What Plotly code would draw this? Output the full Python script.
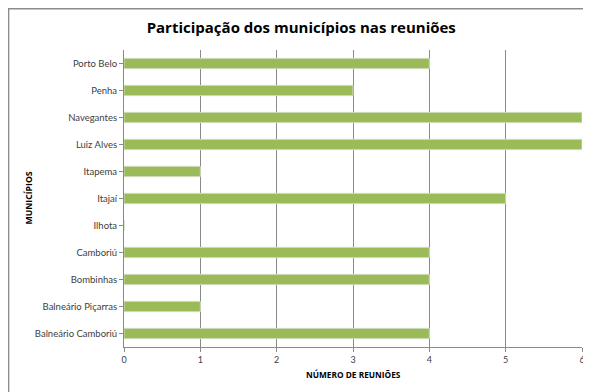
import plotly.graph_objects as go

municipios = ["Balneário Camboriú", "Balneário Piçarras", "Bombinhas", "Camboriú", "Ilhota",
              "Itajaí", "Itapema", "Luiz Alves", "Navegantes", "Penha", "Porto Belo"]
reunioes = [4, 1, 4, 4, 0, 5, 1, 6, 6, 3, 4]
x_ticks = [0, 1, 2, 3, 4, 5, 6]

fig = go.Figure()

# barras horizontais no verde do Excel
fig.add_trace(go.Bar(
    y=municipios,
    x=reunioes,
    orientation="h",
    width=0.38,
    marker=dict(color="#9bbb59", line=dict(color="#d0dcc0", width=1)),
    cliponaxis=False,
))

# a página tem 8px de margem no body, por isso a figura é um pouco menor
fig.update_layout(
    width=583,
    height=384,
    paper_bgcolor="white",
    plot_bgcolor="white",
    showlegend=False,
    margin=dict(l=116, r=9, t=42, b=45),
    font=dict(family="Lato, Open Sans, sans-serif", color="#404040", size=9),
    title=dict(
        text="<b>Participação dos municípios nas reuniões</b>",
        x=0.503, xanchor="center", y=0.948, yanchor="middle",
        font=dict(size=15, color="#000000", family="Open Sans, sans-serif"),
    ),
    xaxis=dict(
        range=[0, 6],
        tickvals=x_ticks,
        automargin=False,
        showgrid=True,
        gridcolor="#8a8a8a",
        gridwidth=1,
        showline=True,
        linecolor="#8a8a8a",
        ticks="outside",
        ticklen=4,
        tickcolor="#8a8a8a",
        zeroline=False,
        tickfont=dict(size=9, color="#404040"),
    ),
    yaxis=dict(
        automargin=False,
        showline=True,
        linecolor="#8a8a8a",
        ticks="outside",
        ticklen=4,
        tickcolor="#8a8a8a",
        showgrid=False,
        tickfont=dict(size=9.5, color="#404040"),
    ),
)

# títulos dos eixos
fig.add_annotation(text="<b>NÚMERO DE REUNIÕES</b>", xref="paper", yref="paper",
                   x=0.5, y=-0.091, showarrow=False, yanchor="middle",
                   font=dict(size=8.3, color="#000000", family="Open Sans, sans-serif"))
fig.add_annotation(text="<b>MUNICÍPIOS</b>", xref="paper", yref="paper",
                   x=-0.2096, y=0.5, textangle=-90, showarrow=False, xanchor="center",
                   font=dict(size=8.7, color="#000000", family="Open Sans, sans-serif"))

# moldura do gráfico
fig.add_shape(type="rect", xref="paper", yref="paper",
              x0=-0.252, x1=1.03, y0=-0.2, y1=1.139,
              line=dict(color="#8c8c8c", width=1.5), layer="below")

fig.write_html("out.html")
